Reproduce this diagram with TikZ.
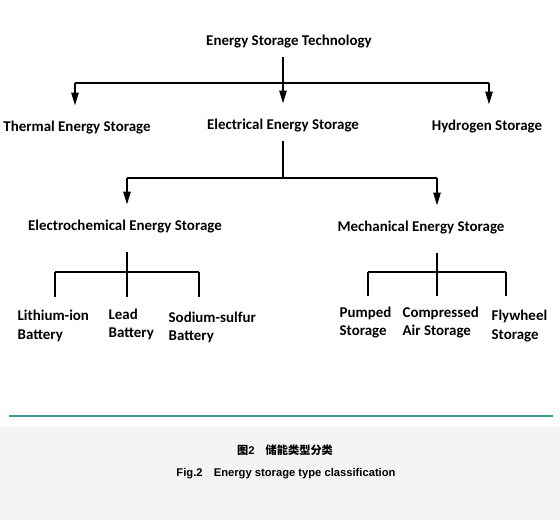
\documentclass[tikz,border=0pt]{standalone}
\usepackage{fontspec}
\setmainfont{Carlito}
\newfontfamily\capfont{Liberation Sans}
\newfontfamily\cjkfont{Noto Sans CJK SC}
\usetikzlibrary{arrows.meta,positioning}
\definecolor{esRule}{HTML}{3A9A98}
\definecolor{esBand}{HTML}{F4F4F4}
\tikzset{
  es/.style={font=\fontsize{11.2}{13.5}\selectfont\bfseries, line width=1pt, >={Triangle[length=9.5pt, width=5.5pt]}},
  cat/.style={inner sep=0pt, anchor=base, text height=8pt, text depth=2.5pt},
  leaf/.style={inner sep=0pt, anchor=base west, align=left},
  branch/.style={-, draw=black},
  arr/.style={->, draw=black, shorten >=11.5pt},
  figcap/.style={font=\capfont\fontsize{8.4}{10}\selectfont\bfseries},
}
\begin{document}
\begin{tikzpicture}[es, x=0.75pt, y=-0.75pt]
\useasboundingbox (0,0) rectangle (560,520);
\fill[esBand] (0,427) rectangle (560,520);
% Ebene 0 und 1
\node[cat] (root)       at (289,46)  {Energy Storage Technology};
\node[cat] (thermal)    at (77,132)  {Thermal Energy Storage};
\node[cat] (electrical) at (283,130) {Electrical Energy Storage};
\node[cat] (hydrogen)   at (487,131) {Hydrogen Storage};
% Ebene 2
\node[cat] (echem) at (125,231) {Electrochemical Energy Storage};
\node[cat] (mech)  at (421,232) {Mechanical Energy Storage};
% Blaetter (Grundlinie der zweiten Zeile)
\node[leaf] (liion)    at (17,339)  {Lithium-ion\\Battery};
\node[leaf] (lead)     at (108,337) {Lead\\Battery};
\node[leaf] (nas)      at (168,340) {Sodium-sulfur\\Battery};
\node[leaf] (pumped)   at (339,335) {Pumped\\Storage};
\node[leaf] (caes)     at (402,335) {Compressed\\Air Storage};
\node[leaf] (flywheel) at (491,339) {Flywheel\\Storage};

% Verzweigungspunkte
\coordinate (a1) at (75,83);   \coordinate (a3) at (489,83);
\coordinate (b1) at (127,178); \coordinate (b2) at (437,178);
\coordinate (c1) at (55,272);  \coordinate (c2) at (127,272);  \coordinate (c3) at (199,272);
\coordinate (m1) at (368,272); \coordinate (m2) at (437,272);  \coordinate (m3) at (506,272);

\draw[branch] (a1) -- (a3);
\draw[arr, shorten <=5pt] (root.south -| electrical.north) -- (electrical.north);
\draw[arr] (a1) -- (a1 |- thermal.north);
\draw[arr] (a3) -- (a3 |- hydrogen.north);

\draw[branch, shorten <=5pt] (electrical.south) -- (electrical.south |- b1);
\draw[branch] (b1) -- (b2);
\draw[arr] (b1) -- (b1 |- echem.north);
\draw[arr] (b2) -- (b2 |- mech.north);

\draw[branch, shorten <=13pt] (c2 |- echem.south) -- (c2);
\draw[branch] (c1) -- (c3);
\draw[branch, shorten >=9.5pt] (c1) -- (c1 |- liion.north);
\draw[branch, shorten >=9.5pt] (c2) -- (c2 |- liion.north);
\draw[branch, shorten >=9.5pt] (c3) -- (c3 |- liion.north);

\draw[branch, shorten <=13pt] (m2 |- mech.south) -- (m2);
\draw[branch] (m1) -- (m3);
\draw[branch, shorten >=7.5pt] (m1) -- (m1 |- pumped.north);
\draw[branch, shorten >=7.5pt] (m2) -- (m2 |- pumped.north);
\draw[branch, shorten >=7.5pt] (m3) -- (m3 |- pumped.north);

\draw[esRule, line width=1.6pt] (9,416) -- (553,416);
\node[figcap] (capzh) at (285,450) {{\cjkfont 图}2\quad{\cjkfont 储能类型分类}};
\node[figcap] (capen) at (286,474) {Fig.2\quad Energy storage type classification};
\end{tikzpicture}
\end{document}
